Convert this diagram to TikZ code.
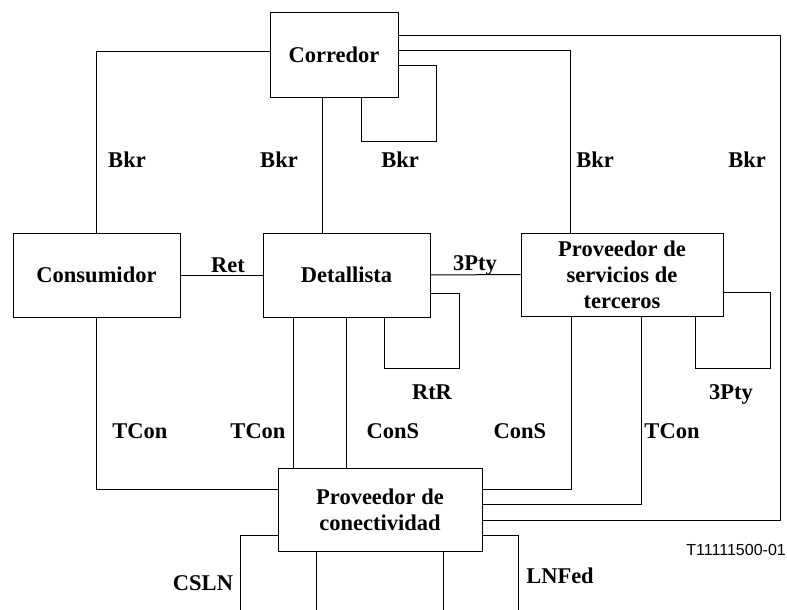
\documentclass[tikz,border=0pt]{standalone}
\usepackage{fontspec}
\setmainfont{Liberation Serif}
\newfontfamily\codefont{Liberation Sans}
\begin{document}
\begin{tikzpicture}[x=1pt,y=-1pt,
  box/.style={draw,line width=1pt,inner sep=0pt,align=center,
    font=\fontsize{22.5}{26}\selectfont\bfseries},
  lbl/.style={anchor=base,inner sep=0pt,font=\fontsize{22.5}{26}\selectfont\bfseries},
  conn/.style={line width=1pt}]
\useasboundingbox (0,0) rectangle (787,610);
% boxes
\node[box,minimum width=128pt,minimum height=84pt] (corr) at (334,55) {Corredor};
\node[box,minimum width=167pt,minimum height=84pt] (cons) at (96.5,275) {Consumidor};
\node[box,minimum width=167pt,minimum height=84pt] (det) at (346.5,275) {Detallista};
\node[box,minimum width=202pt,minimum height=83pt] (psp) at (622,274.5) {Proveedor de\\servicios de\\terceros};
\node[box,minimum width=204pt,minimum height=83pt] (pc) at (380,509.5) {Proveedor de\\conectividad};
% free ends
\coordinate (e1) at (240,610);
\coordinate (e2) at (316,610);
\coordinate (e3) at (443,610);
\coordinate (e4) at (518,610);
% connectors from Corredor
\draw[conn] (corr.west |- 0,52) -| (cons.north);
\draw[conn] (corr.south -| 322,0) -- (det.north -| 322,0);
\draw[conn] (corr.east |- 0,66) -- (436,66) -- (436,141) -- (361,141) -- (corr.south -| 361,0);
\draw[conn] (corr.east |- 0,51) -| (psp.north -| 570,0);
\draw[conn] (corr.east |- 0,36) -- (780,36) -- (780,520) -- (pc.east |- 0,520);
% horizontal links
\draw[conn] (cons.east) -- (det.west);
\draw[conn] (det.east) -- (psp.west);
% loops
\draw[conn] (det.east |- 0,293) -- (459,293) -- (459,368) -- (384,368) -- (det.south -| 384,0);
\draw[conn] (psp.east |- 0,292) -- (770,292) -- (770,368) -- (695,368) -- (psp.south -| 695,0);
% to Proveedor de conectividad
\draw[conn] (cons.south) |- (pc.west |- 0,489);
\draw[conn] (det.south -| 293,0) -- (pc.north -| 293,0);
\draw[conn] (det.south -| 346,0) -- (pc.north -| 346,0);
\draw[conn] (psp.south -| 571,0) |- (pc.east |- 0,489);
\draw[conn] (psp.south -| 641,0) |- (pc.east |- 0,504);
% bottom
\draw[conn] (pc.west |- 0,535) -| (e1);
\draw[conn] (pc.south -| e2) -- (e2);
\draw[conn] (pc.south -| e3) -- (e3);
\draw[conn] (pc.east |- 0,535) -| (e4);
% labels
\node[lbl] (l1) at (127,167) {Bkr};
\node[lbl] (l2) at (279,167) {Bkr};
\node[lbl] (l3) at (400,167) {Bkr};
\node[lbl] (l4) at (595,167) {Bkr};
\node[lbl] (l5) at (747,167) {Bkr};
\node[lbl] (l6) at (228,272) {Ret};
\node[lbl] (l7) at (475,270) {3Pty};
\node[lbl] (l8) at (432,399) {RtR};
\node[lbl] (l9) at (731,399) {3Pty};
\node[lbl] (l10) at (140,438) {TCon};
\node[lbl] (l11) at (258,438) {TCon};
\node[lbl] (l12) at (393,438) {ConS};
\node[lbl] (l13) at (520,438) {ConS};
\node[lbl] (l14) at (672,438) {TCon};
\node[lbl] (l15) at (203,590) {CSLN};
\node[lbl] (l16) at (560,583) {LNFed};
\node[anchor=base east,inner sep=0pt,font=\fontsize{16}{18}\selectfont\codefont] (tag) at (786,555) {T11111500-01};
\end{tikzpicture}
\end{document}
